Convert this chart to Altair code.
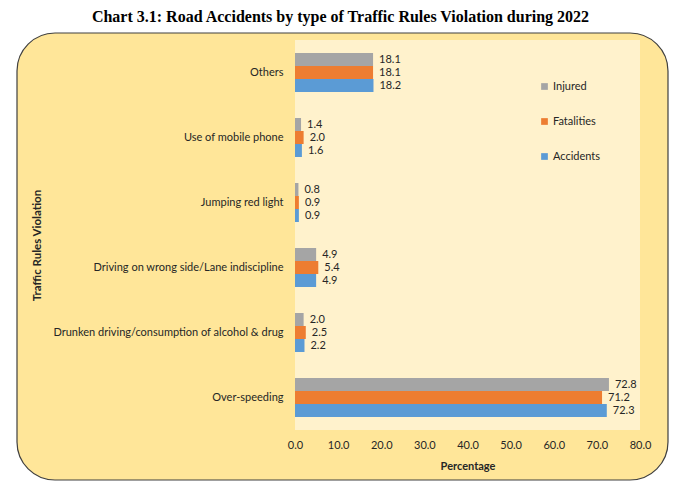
import altair as alt
import pandas as pd

categories = ["Others", "Use of mobile phone", "Jumping red light",
              "Driving on wrong side/Lane indiscipline",
              "Drunken driving/consumption of alcohol & drug", "Over-speeding"]
series = ["Injured", "Fatalities", "Accidents"]
injured = [18.1, 1.4, 0.8, 4.9, 2.0, 72.8]
fatalities = [18.1, 2.0, 0.9, 5.4, 2.5, 71.2]
accidents = [18.2, 1.6, 0.9, 4.9, 2.2, 72.3]
colors = ["#A5A5A5", "#ED7D31", "#5B9BD5"]
x_ticks = [0, 10, 20, 30, 40, 50, 60, 70, 80]

rows = []
for s, vals in zip(series, [injured, fatalities, accidents]):
    for c, v in zip(categories, vals):
        rows.append({"Category": c, "Series": s, "Value": v})
df = pd.DataFrame(rows)

W, H = 345, 390
FONT = "Lato"

one = pd.DataFrame({"k": [0]})

frame = alt.Chart(one).mark_rect(
    fill="#FFE699", stroke="#404040", strokeWidth=1.2, cornerRadius=38, clip=False
).encode(x=alt.value(-278), x2=alt.value(373), y=alt.value(-7), y2=alt.value(440))

inner = alt.Chart(one).mark_rect(fill="#FFF2CC").encode(
    x=alt.value(0), x2=alt.value(W), y=alt.value(0), y2=alt.value(H))

base = alt.Chart(df).encode(
    y=alt.Y("Category:N", sort=categories,
            scale=alt.Scale(paddingInner=0.4, paddingOuter=0.2),
            axis=alt.Axis(title="Traffic Rules Violation", ticks=False, domain=False,
                          labelPadding=12, labelFont=FONT, labelFontSize=11,
                          labelColor="#262626", labelLimit=300,
                          titleFont=FONT, titleFontSize=11.5, titleFontWeight="bold",
                          titleColor="#262626", titleX=-253, titleY=205,
                          zindex=1)),
    yOffset=alt.YOffset("Series:N", sort=series),
    x=alt.X("Value:Q", scale=alt.Scale(domain=[0, 80], nice=False),
            axis=alt.Axis(title="Percentage", values=x_ticks, format=".1f",
                          grid=False, ticks=False, domain=False, labelPadding=9,
                          labelFlush=False,
                          labelFont=FONT, labelFontSize=11, labelColor="#262626",
                          titleFont=FONT, titleFontSize=11, titleFontWeight="bold",
                          titleColor="#262626", titlePadding=10, zindex=1)),
)

bars = base.mark_bar().encode(
    color=alt.Color("Series:N", sort=series,
                    scale=alt.Scale(domain=series, range=colors),
                    legend=alt.Legend(title=None, orient="none", legendX=244, legendY=41,
                                      symbolType="square", symbolSize=45,
                                      rowPadding=23, labelFont=FONT, labelFontSize=11,
                                      labelColor="#262626", labelOffset=3,
                                      symbolStrokeWidth=0))
)

labels = base.mark_text(align="left", dx=6, font=FONT, fontSize=11, color="#262626").encode(
    text=alt.Text("Value:Q", format=".1f"))

chart = alt.layer(frame, inner, bars, labels).properties(
    width=W, height=H,
    title=alt.TitleParams("Chart 3.1: Road Accidents by type of Traffic Rules Violation during 2022",
                          font="Liberation Serif", fontSize=16, fontWeight="bold",
                          color="#000000", anchor="middle", dx=-127, offset=7),
    padding={"left": 287, "top": 32, "right": 30, "bottom": 52},
    autosize=alt.AutoSizeParams(type="none"),
).configure_view(stroke=None)

chart.save("out.html", embed_options={"renderer": "svg", "actions": False})
